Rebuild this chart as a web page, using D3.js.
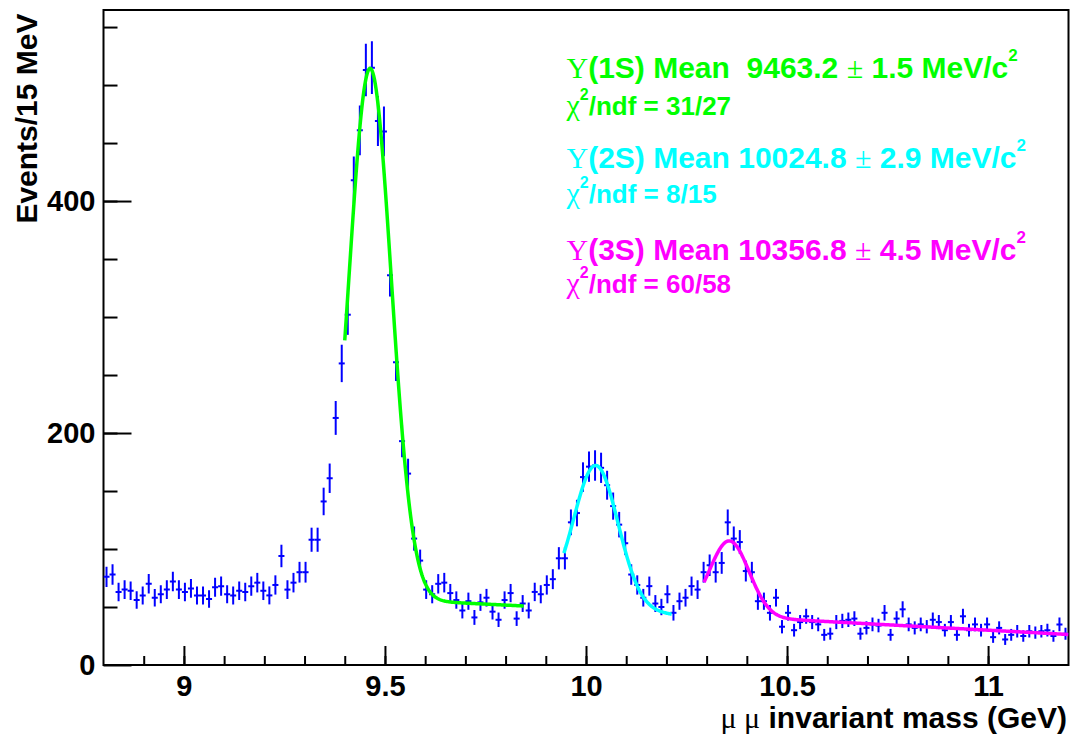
<!DOCTYPE html>
<html>
<head>
<meta charset="utf-8">
<script src="https://cdn.jsdelivr.net/npm/d3@7"></script>
<style>
  html, body { margin: 0; padding: 0; background: #fff; }
  svg { display: block; }
  text { font-family: "Liberation Sans", Arial, Helvetica, sans-serif; font-weight: bold; }
  .serif { font-family: "Liberation Serif", "Times New Roman", serif; font-weight: normal; }
</style>
</head>
<body>
<svg id="chart" width="1072" height="738"></svg>
<script>
// ---- data ----
const binStart = 8.8;      // GeV, lower edge of first bin
const binWidth = 0.015;    // GeV (15 MeV)
const counts = [
  76, 78, 63, 65, 64, 56, 60, 70, 58, 61,
  65, 72, 65, 63, 66, 60, 60, 57, 67, 68,
  61, 60, 64, 63, 68, 71, 64, 60, 69, 94,
  65, 71, 80, 80, 108, 108, 141, 161, 213, 260,
  302, 418, 461, 513, 515, 469, 460, 336, 261, 193,
  165, 109, 90, 65, 61, 70, 71, 62, 56, 47,
  55, 41, 54, 58, 46, 39, 56, 62, 40, 53,
  47, 63, 61, 69, 74, 92, 92, 123, 131, 162,
  171, 172, 170, 155, 137, 121, 105, 78, 69, 58,
  68, 53, 50, 61, 45, 55, 58, 68, 65, 80,
  86, 80, 88, 123, 109, 106, 81, 80, 55, 55,
  45, 58, 33, 45, 30, 37, 42, 37, 35, 26,
  27, 37, 38, 39, 40, 27, 32, 35, 34, 45,
  26, 40, 48, 35, 32, 35, 33, 39, 37, 30,
  37, 26, 42, 30, 35, 30, 35, 24, 32, 22,
  26, 29, 25, 29, 28, 29, 30, 25, 35, 27
];

// fit results (Gaussian + linear background)
const fitStates   = ["1S", "2S", "3S"];
const fitMeans    = [9.4632, 10.0248, 10.3568];
const fitSigmas   = [0.0525, 0.055, 0.049];
const fitAmps     = [457, 121, 65];
const fitBkgRef   = [9.75, 10.1, 10.684];
const fitBkgLevel = [52.5, 48, 35.9];
const fitBkgSlope = [-17, -40, -18.6];
const fitLow      = [9.40, 9.945, 10.2935];
const fitHigh     = [9.845, 10.213, 11.2];

// text
const meanTexts = ["  9463.2", " 10024.8", " 10356.8"];
const errTexts  = ["1.5", "2.9", "4.5"];
const chi2Texts = ["31/27", "8/15", "60/58"];

const xTicksMajor = [9, 9.5, 10, 10.5, 11];
const yTicksMajor = [0, 200, 400];

// ---- layout ----
const colors = ["#00ff00", "#00ffff", "#ff00ff"];
const pLeft = 103.5, pRight = 1068.5, pTop = 10, pBottom = 665;

const svg = d3.select("#chart");
svg.append("rect").attr("width", 1072).attr("height", 738).attr("fill", "#fff");

const x = d3.scaleLinear().domain([8.8, 11.2]).range([pLeft, pRight]);
const y = d3.scaleLinear().domain([0, 564.7]).range([pBottom, pTop]);

svg.append("defs").append("clipPath").attr("id", "clip")
  .append("rect").attr("x", pLeft).attr("y", pTop).attr("width", pRight - pLeft).attr("height", pBottom - pTop);

// axes: minor + major ticks (ROOT style, pointing inward)
const gxMinor = svg.append("g").attr("transform", `translate(0,${pBottom})`)
  .call(d3.axisBottom(x).tickValues(d3.range(8.9, 11.2, 0.1)).tickSize(-9).tickFormat(""));
const gxMajor = svg.append("g").attr("transform", `translate(0,${pBottom})`)
  .call(d3.axisBottom(x).tickValues(xTicksMajor).tickSize(-19).tickPadding(10).tickFormat(d3.format("")));
const gyMinor = svg.append("g").attr("transform", `translate(${pLeft},0)`)
  .call(d3.axisLeft(y).tickValues(d3.range(50, 565, 50)).tickSize(-14).tickFormat(""));
const gyMajor = svg.append("g").attr("transform", `translate(${pLeft},0)`)
  .call(d3.axisLeft(y).tickValues(yTicksMajor).tickSize(-28).tickPadding(8).tickFormat(d3.format("")));

[gxMinor, gxMajor, gyMinor, gyMajor].forEach(g => {
  g.select(".domain").remove();
  g.selectAll(".tick line").attr("stroke", "#000").attr("stroke-width", 2);
  g.selectAll(".tick text").attr("fill", "#000").style("font-size", "29px")
    .style("font-family", '"Liberation Sans", Arial, sans-serif').style("font-weight", "bold");
});

// frame
svg.append("rect").attr("x", pLeft).attr("y", pTop).attr("width", pRight - pLeft).attr("height", pBottom - pTop)
  .attr("fill", "none").attr("stroke", "#000").attr("stroke-width", 2);

// data points with error bars
const pts = counts.map((n, i) => ({ lo: binStart + i * binWidth, hi: binStart + (i + 1) * binWidth, n }));
const gData = svg.append("g").attr("clip-path", "url(#clip)")
  .attr("stroke", "#0000ff").attr("stroke-width", 2);
gData.selectAll("line.v").data(pts).join("line").attr("class", "v")
  .attr("x1", d => x((d.lo + d.hi) / 2)).attr("x2", d => x((d.lo + d.hi) / 2))
  .attr("y1", d => y(d.n - Math.sqrt(d.n))).attr("y2", d => y(d.n + Math.sqrt(d.n)));
gData.selectAll("line.h").data(pts).join("line").attr("class", "h")
  .attr("x1", d => x(d.lo)).attr("x2", d => x(d.hi))
  .attr("y1", d => y(d.n)).attr("y2", d => y(d.n));

// fit curves
const fitLine = d3.line().x(d => x(d[0])).y(d => y(d[1]));
const gFit = svg.append("g").attr("clip-path", "url(#clip)");
fitStates.forEach((s, k) => {
  const f = m => fitAmps[k] * Math.exp(-Math.pow(m - fitMeans[k], 2) / (2 * fitSigmas[k] * fitSigmas[k]))
               + fitBkgLevel[k] + fitBkgSlope[k] * (m - fitBkgRef[k]);
  const ms = d3.range(fitLow[k], fitHigh[k], 0.002).concat([fitHigh[k]]);
  gFit.append("path").datum(ms.map(m => [m, f(m)])).attr("d", fitLine)
    .attr("fill", "none").attr("stroke", colors[k]).attr("stroke-width", 3.5);
});

// fit result labels
const line1Y = [78.3, 168.3, 260];
const line2Y = [115, 203.3, 293.3];
const tx = 566.5;
fitStates.forEach((s, k) => {
  const t1 = svg.append("text").attr("x", tx).attr("y", line1Y[k]).attr("fill", colors[k])
    .style("font-size", "30px").style("white-space", "pre");
  t1.append("tspan").attr("class", "serif").text("\u03A5");
  t1.append("tspan").text(`(${s}) Mean${meanTexts[k]} `);
  t1.append("tspan").attr("class", "serif").text("\u00B1");
  t1.append("tspan").text(` ${errTexts[k]} MeV/c`);
  t1.append("tspan").attr("dy", -17).style("font-size", "17px").text("2");

  const t2 = svg.append("text").attr("x", tx).attr("y", line2Y[k]).attr("fill", colors[k])
    .style("font-size", "26px").style("white-space", "pre");
  t2.append("tspan").attr("class", "serif").style("font-size", "30px").text("\u03C7");
  t2.append("tspan").attr("dy", -15).style("font-size", "16px").text("2");
  t2.append("tspan").attr("dy", 15).text(`/ndf = ${chi2Texts[k]}`);
});

// axis titles
const xt = svg.append("text").attr("x", 1067).attr("y", 728).attr("text-anchor", "end")
  .attr("fill", "#000").style("font-size", "30px").style("white-space", "pre");
xt.append("tspan").attr("class", "serif").text("\u03BC \u03BC");
xt.append("tspan").text(" invariant mass (GeV)");

svg.append("text").attr("transform", "translate(37,13.5) rotate(-90)").attr("text-anchor", "end")
  .attr("fill", "#000").style("font-size", "30px").text("Events/15 MeV");
</script>
</body>
</html>
